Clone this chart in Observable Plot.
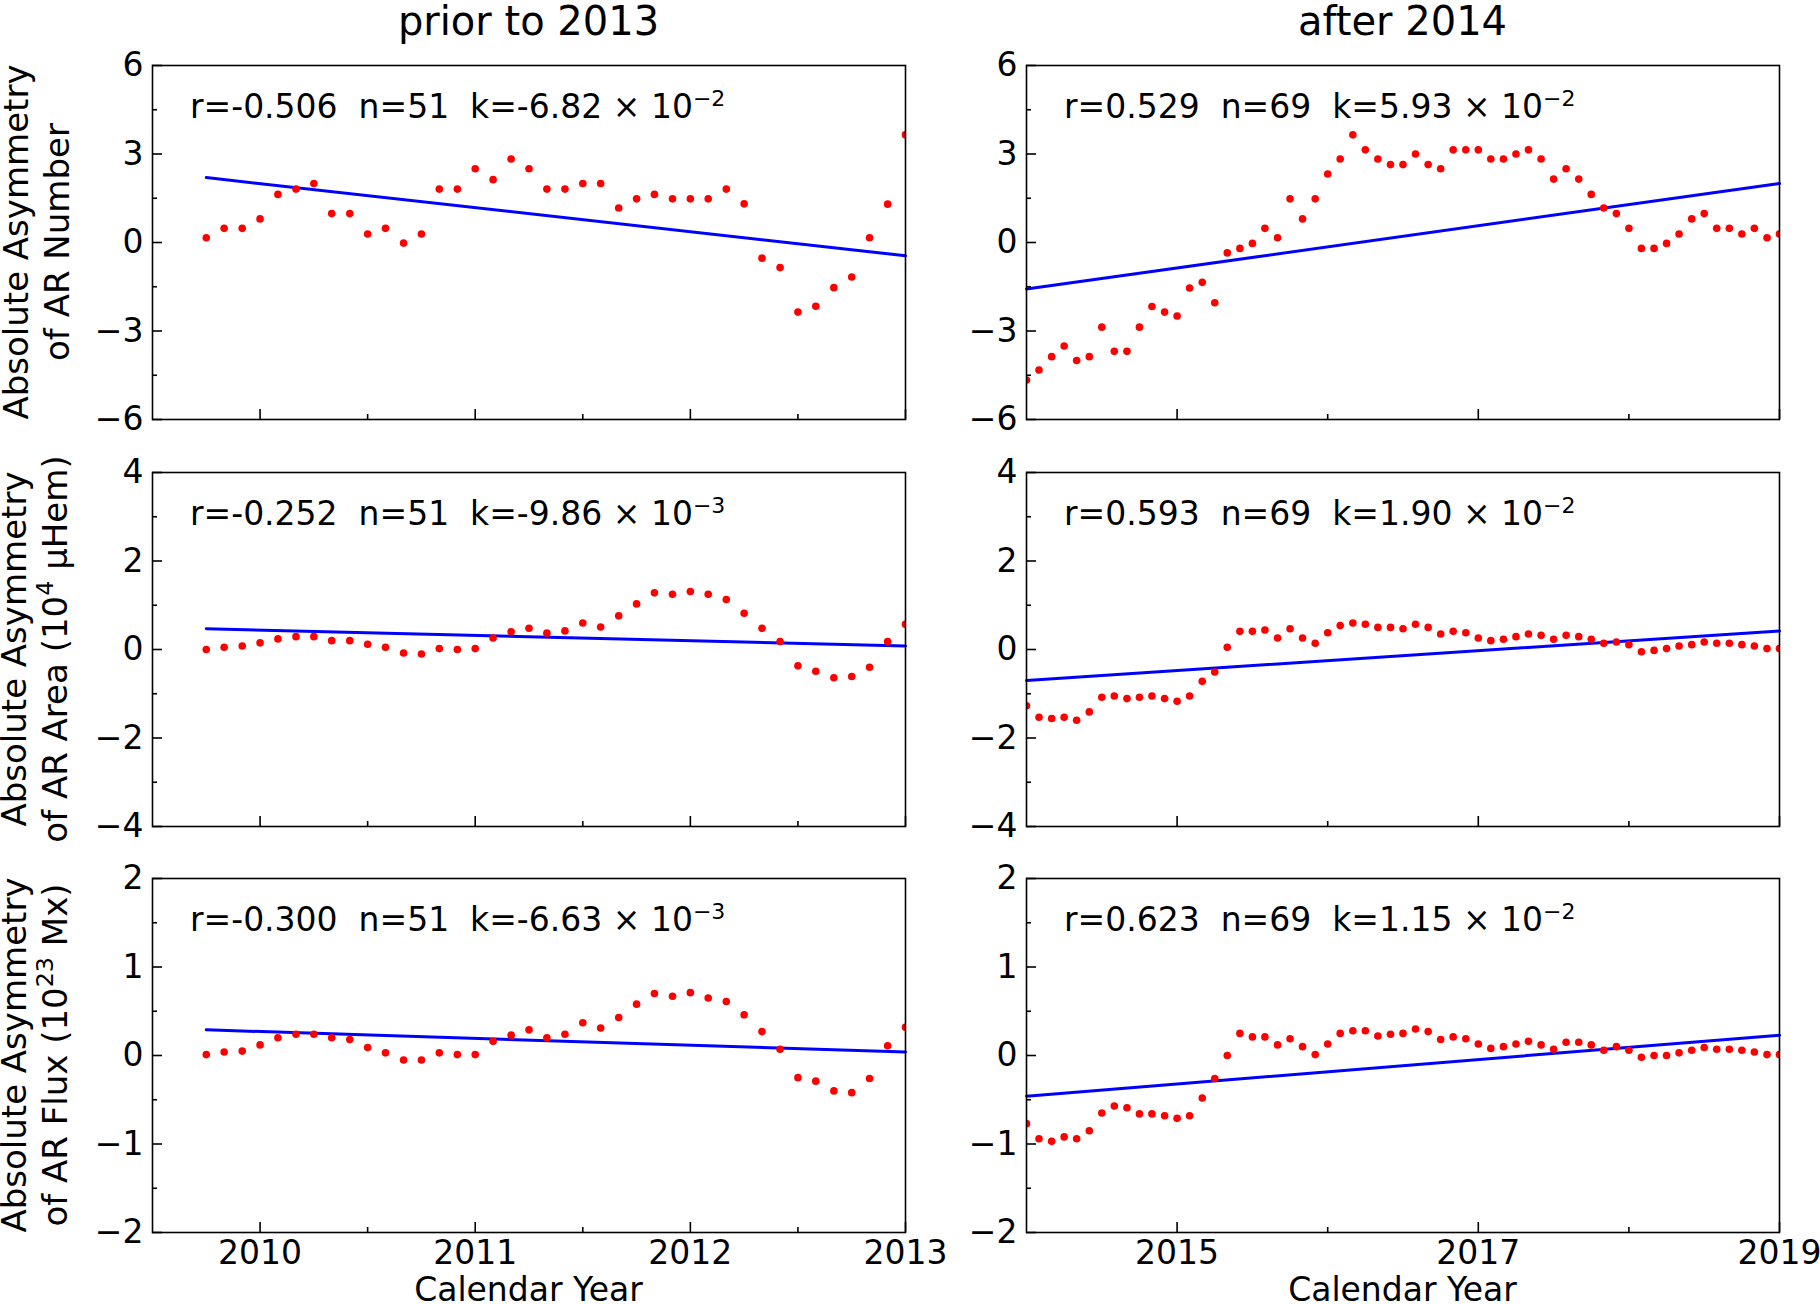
<!DOCTYPE html>
<html><head><meta charset="utf-8">
<script src="https://cdn.jsdelivr.net/npm/d3@7"></script>
<script src="https://cdn.jsdelivr.net/npm/@observablehq/plot@0.6"></script>
<style>
html,body{margin:0;padding:0;background:#fff;}
#fig{position:relative;width:1820px;height:1304px;overflow:hidden;font-family:"DejaVu Sans",sans-serif;color:#000;background:#fff;}
.abs{position:absolute;white-space:nowrap;}
</style></head><body><div id="fig"></div>
<script>
// ---------------- data ----------------
const columnTitles = ["prior to 2013", "after 2014"];
const xAxisTitle = "Calendar Year";
const rowLabelLine1 = ["Absolute Asymmetry", "Absolute Asymmetry", "Absolute Asymmetry"];
const rowLabelLine2 = [["of AR Number", "", ""], ["of AR Area (10", "4", " μHem)"], ["of AR Flux (10", "23", " Mx)"]];

const timePrior = [2009.750, 2009.833, 2009.917,
  2010.000, 2010.083, 2010.167, 2010.250, 2010.333, 2010.417, 2010.500, 2010.583, 2010.667, 2010.750, 2010.833, 2010.917,
  2011.000, 2011.083, 2011.167, 2011.250, 2011.333, 2011.417, 2011.500, 2011.583, 2011.667, 2011.750, 2011.833, 2011.917,
  2012.000, 2012.083, 2012.167, 2012.250, 2012.333, 2012.417, 2012.500, 2012.583, 2012.667, 2012.750, 2012.833, 2012.917,
  2013.000];
const timeAfter = [
  2014.000, 2014.083, 2014.167, 2014.250, 2014.333, 2014.417, 2014.500, 2014.583, 2014.667, 2014.750, 2014.833, 2014.917,
  2015.000, 2015.083, 2015.167, 2015.250, 2015.333, 2015.417, 2015.500, 2015.583, 2015.667, 2015.750, 2015.833, 2015.917,
  2016.000, 2016.083, 2016.167, 2016.250, 2016.333, 2016.417, 2016.500, 2016.583, 2016.667, 2016.750, 2016.833, 2016.917,
  2017.000, 2017.083, 2017.167, 2017.250, 2017.333, 2017.417, 2017.500, 2017.583, 2017.667, 2017.750, 2017.833, 2017.917,
  2018.000, 2018.083, 2018.167, 2018.250, 2018.333, 2018.417, 2018.500, 2018.583, 2018.667, 2018.750, 2018.833, 2018.917,
  2019.000];

const numberPrior = [0.16, 0.48, 0.48, 0.80, 1.63, 1.81, 2.00, 0.98, 0.98, 0.29, 0.48, -0.02, 0.29, 1.81, 1.81, 2.50, 2.13, 2.83, 2.50, 1.81, 1.81, 2.00, 2.00, 1.17, 1.48, 1.63, 1.48, 1.48, 1.48, 1.81, 1.31, -0.53, -0.85, -2.36, -2.16, -1.53, -1.17, 0.16, 1.30, 3.65];
const areaPrior = [0.00, 0.05, 0.08, 0.15, 0.24, 0.29, 0.29, 0.20, 0.20, 0.12, 0.05, -0.08, -0.10, 0.02, 0.00, 0.02, 0.26, 0.40, 0.48, 0.37, 0.42, 0.60, 0.51, 0.76, 1.03, 1.28, 1.25, 1.31, 1.25, 1.13, 0.82, 0.48, 0.18, -0.37, -0.49, -0.64, -0.61, -0.40, 0.18, 0.57];
const fluxPrior = [0.01, 0.04, 0.05, 0.12, 0.20, 0.24, 0.24, 0.20, 0.18, 0.09, 0.03, -0.05, -0.05, 0.03, 0.01, 0.01, 0.16, 0.23, 0.29, 0.20, 0.24, 0.37, 0.31, 0.43, 0.58, 0.70, 0.67, 0.71, 0.65, 0.61, 0.46, 0.27, 0.07, -0.25, -0.29, -0.40, -0.42, -0.26, 0.11, 0.32];

const numberAfter = [-4.66, -4.32, -3.87, -3.51, -4.00, -3.87, -2.87, -3.69, -3.69, -2.87, -2.17, -2.36, -2.49, -1.54, -1.35, -2.04, -0.35, -0.20, -0.03, 0.48, 0.16, 1.48, 0.80, 1.48, 2.32, 2.83, 3.65, 3.14, 2.83, 2.64, 2.64, 3.00, 2.64, 2.50, 3.14, 3.14, 3.14, 2.83, 2.83, 3.00, 3.14, 2.83, 2.15, 2.50, 2.15, 1.63, 1.17, 0.98, 0.48, -0.20, -0.20, -0.03, 0.29, 0.80, 0.98, 0.48, 0.48, 0.29, 0.48, 0.16, 0.29];
const areaAfter = [-1.27, -1.53, -1.56, -1.53, -1.60, -1.41, -1.08, -1.05, -1.11, -1.08, -1.05, -1.11, -1.17, -1.05, -0.72, -0.51, 0.05, 0.41, 0.41, 0.44, 0.26, 0.47, 0.26, 0.14, 0.38, 0.54, 0.60, 0.57, 0.50, 0.50, 0.47, 0.57, 0.50, 0.35, 0.41, 0.38, 0.26, 0.20, 0.23, 0.29, 0.35, 0.32, 0.23, 0.32, 0.29, 0.23, 0.14, 0.17, 0.11, -0.05, -0.02, 0.02, 0.08, 0.11, 0.17, 0.14, 0.14, 0.11, 0.08, 0.02, 0.02];
const fluxAfter = [-0.77, -0.94, -0.97, -0.92, -0.94, -0.85, -0.65, -0.57, -0.59, -0.66, -0.66, -0.68, -0.71, -0.68, -0.48, -0.26, 0.00, 0.25, 0.21, 0.21, 0.12, 0.19, 0.10, 0.01, 0.13, 0.25, 0.28, 0.28, 0.22, 0.24, 0.25, 0.30, 0.27, 0.18, 0.21, 0.19, 0.13, 0.08, 0.10, 0.13, 0.16, 0.12, 0.07, 0.15, 0.15, 0.12, 0.06, 0.10, 0.06, -0.02, 0.00, 0.00, 0.03, 0.06, 0.09, 0.07, 0.07, 0.06, 0.04, 0.01, 0.01];

// fitted straight lines: end points
const fitTimePrior = [2009.75, 2013.0];
const fitTimeAfter = [2014.0, 2019.0];
const fitNumberPrior = [2.20, -0.45];
const fitNumberAfter = [-1.58, 2.00];
const fitAreaPrior = [0.47, 0.08];
const fitAreaAfter = [-0.70, 0.42];
const fitFluxPrior = [0.29, 0.04];
const fitFluxAfter = [-0.46, 0.23];

// annotations: [main text, superscript]
const annotPrior = [["r=-0.506  n=51  k=-6.82 × 10", "−2"], ["r=-0.252  n=51  k=-9.86 × 10", "−3"], ["r=-0.300  n=51  k=-6.63 × 10", "−3"]];
const annotAfter = [["r=0.529  n=69  k=5.93 × 10", "−2"], ["r=0.593  n=69  k=1.90 × 10", "−2"], ["r=0.623  n=69  k=1.15 × 10", "−2"]];

// axes ticks
const xDomainPrior = [2009.5, 2013];
const xDomainAfter = [2014, 2019];
const xMajorPrior = [2010, 2011, 2012, 2013];
const xMinorPrior = [2010.5, 2011.5, 2012.5];
const xMajorAfter = [2015, 2017, 2019];
const xMinorAfter = [2016, 2018];
const yDomains = [[-6, 6], [-4, 4], [-2, 2]];
const yMajor = [[-6, -3, 0, 3, 6], [-4, -2, 0, 2, 4], [-2, -1, 0, 1, 2]];
const yMinor = [[-4.5, -1.5, 1.5, 4.5], [-3, -1, 1, 3], [-1.5, -0.5, 0.5, 1.5]];

// ---------------- layout ----------------
const colLeft = [152, 1026];
const rowTop = [65, 472, 878];
const innerW = 753, innerH = 354;
const mL = 70, mR = 45, mT = 10, mB = 50;
const fig = document.getElementById("fig");
const fmtY = d => d < 0 ? "\u2212" + Math.abs(d) : String(d);

const seriesPrior = [numberPrior, areaPrior, fluxPrior];
const seriesAfter = [numberAfter, areaAfter, fluxAfter];
const fitsPrior = [fitNumberPrior, fitAreaPrior, fitFluxPrior];
const fitsAfter = [fitNumberAfter, fitAreaAfter, fitFluxAfter];

function makePanel(row, col) {
  const times = col === 0 ? timePrior : timeAfter;
  const vals = col === 0 ? seriesPrior[row] : seriesAfter[row];
  const fitT = col === 0 ? fitTimePrior : fitTimeAfter;
  const fitV = col === 0 ? fitsPrior[row] : fitsAfter[row];
  const pts = times.map((t, i) => ({t, v: vals[i]}));
  const fit = fitT.map((t, i) => ({t, v: fitV[i]}));
  const xMajor = col === 0 ? xMajorPrior : xMajorAfter;
  const xMinor = col === 0 ? xMinorPrior : xMinorAfter;
  const tickStyle = {stroke: "#000", strokeWidth: 1.6};
  const marks = [
    Plot.ruleX(xMajor, {x: d => d, insetTop: innerH - 10, ...tickStyle}),
    Plot.ruleX(xMinor, {x: d => d, insetTop: innerH - 5, ...tickStyle}),
    Plot.ruleY(yMajor[row], {y: d => d, insetRight: innerW - 10, ...tickStyle}),
    Plot.ruleY(yMinor[row], {y: d => d, insetRight: innerW - 5, ...tickStyle}),
    Plot.line(fit, {x: "t", y: "v", stroke: "#0000ff", strokeWidth: 3}),
    Plot.dot(pts, {x: "t", y: "v", r: 3.8, fill: "#ff0000", stroke: "none", clip: true}),
    Plot.frame({stroke: "#000", strokeWidth: 1.6}),
    Plot.axisY(yMajor[row], {tickSize: 0, tickPadding: 9, tickFormat: fmtY, label: null})
  ];
  if (row === 2) {
    marks.push(Plot.axisX(xMajor, {tickSize: 0, tickPadding: 8, tickFormat: d => String(d), label: null}));
  }
  const svg = Plot.plot({
    width: innerW + mL + mR,
    height: innerH + mT + mB,
    marginLeft: mL, marginRight: mR, marginTop: mT, marginBottom: mB,
    x: {domain: col === 0 ? xDomainPrior : xDomainAfter, axis: row === 2 ? undefined : null},
    y: {domain: yDomains[row]},
    style: {fontFamily: "DejaVu Sans", fontSize: "33px", color: "#000", background: "transparent", overflow: "visible"},
    marks
  });
  svg.style.position = "absolute";
  svg.style.left = (colLeft[col] - mL) + "px";
  svg.style.top = (rowTop[row] - mT) + "px";
  svg.style.maxWidth = "none";
  // annotation text with superscript
  const ann = col === 0 ? annotPrior[row] : annotAfter[row];
  const t = d3.select(svg).append("text")
    .attr("x", mL + 38).attr("y", mT + 53)
    .attr("text-anchor", "start")
    .attr("font-family", "DejaVu Sans").attr("font-size", 33).attr("fill", "#000")
    .style("white-space", "pre");
  t.append("tspan").text(ann[0]);
  t.append("tspan").attr("font-size", 22).attr("dy", -12).text(ann[1]);
  fig.appendChild(svg);
}

for (let r = 0; r < 3; r++) for (let c = 0; c < 2; c++) makePanel(r, c);

// column titles
const colCenter = colLeft.map(l => l + innerW / 2);
columnTitles.forEach((s, i) => {
  const d = document.createElement("div");
  d.className = "abs";
  d.textContent = s;
  Object.assign(d.style, {left: colCenter[i] + "px", top: "1px", transform: "translateX(-50%)", fontSize: "40px", lineHeight: "40px"});
  fig.appendChild(d);
});
// x-axis titles
colCenter.forEach(cx => {
  const d = document.createElement("div");
  d.className = "abs";
  d.textContent = xAxisTitle;
  Object.assign(d.style, {left: cx + "px", top: "1273px", transform: "translateX(-50%)", fontSize: "33px", lineHeight: "33px"});
  fig.appendChild(d);
});
// y-axis titles (two lines, rotated)
rowLabelLine1.forEach((l1, r) => {
  const d = document.createElement("div");
  d.className = "abs";
  const a = document.createElement("div"); a.textContent = l1; d.appendChild(a);
  const b = document.createElement("div");
  const p = rowLabelLine2[r];
  b.appendChild(document.createTextNode(p[0]));
  if (p[1]) {
    const s = document.createElement("span");
    s.textContent = p[1];
    Object.assign(s.style, {fontSize: "0.7em", position: "relative", top: "-0.6em"});
    b.appendChild(s);
  }
  if (p[2]) b.appendChild(document.createTextNode(p[2]));
  d.appendChild(b);
  Object.assign(d.style, {left: "37px", top: (rowTop[r] + innerH / 2) + "px", transform: "translate(-50%, -50%) rotate(-90deg)", fontSize: "34px", lineHeight: "41px", textAlign: "center"});
  fig.appendChild(d);
});
</script>
</body></html>
